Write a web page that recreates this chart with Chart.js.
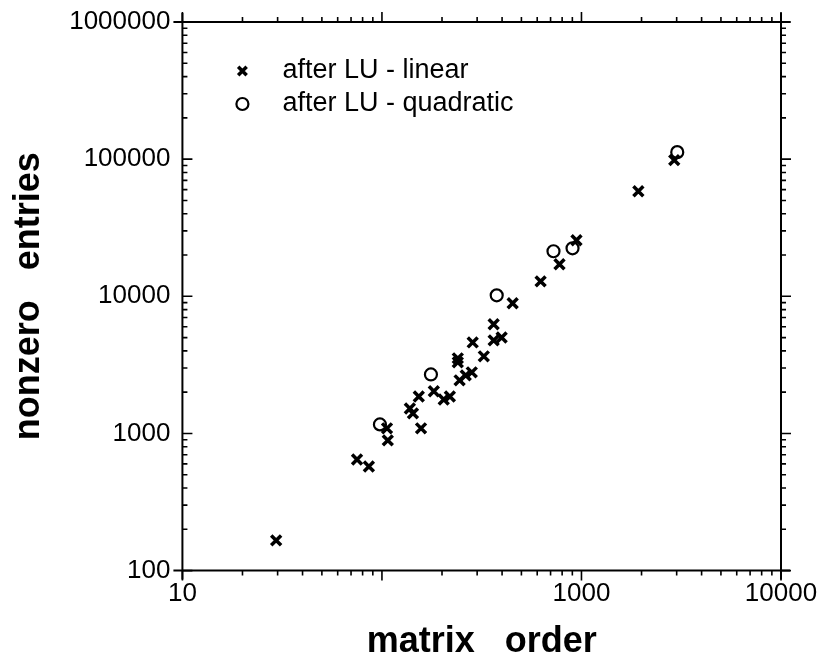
<!DOCTYPE html>
<html>
<head>
<meta charset="utf-8">
<script src="https://cdn.jsdelivr.net/npm/chart.js@4.4.0/dist/chart.umd.min.js"></script>
<style>
  html, body { margin: 0; padding: 0; background: #fff; }
  #wrap { width: 830px; height: 666px; }
</style>
</head>
<body>
<div id="wrap"><canvas id="chart" width="830" height="666"></canvas></div>
<script>
// matrix order vs nonzero entries
var linearOrder = [29.5, 75, 86, 106, 107, 138, 143, 153, 157, 182, 204, 219, 240, 240, 245, 263, 282, 285, 324, 363, 398, 363, 452, 624, 776, 944, 1928, 2917];
var linearNonzeros = [166, 646, 574, 1090, 890, 1520, 1400, 1860, 1090, 2030, 1770, 1860, 3530, 3300, 2440, 2650, 2790, 4610, 3650, 4770, 5010, 6250, 8890, 12850, 17130, 25640, 58340, 98400];

var quadOrder = [97.7, 176, 376, 724, 902, 3020];
var quadNonzeros = [1164, 2692, 10160, 21300, 22390, 112500];

var xTickLabels = [10, 1000, 10000];
var yTickLabels = [100, 1000, 10000, 100000, 1000000];

function pts(xs, ys) {
    return xs.map(function (x, i) { return { x: x, y: ys[i] }; });
}

function isLabel(list, v) {
    return list.some(function (t) { return Math.abs(t - v) / t < 1e-6; });
}

var FONT = '"Liberation Sans", Arial, Helvetica, sans-serif';

// box, crossing corners, and log ticks on all four sides
var frame = {
    id: 'frame',
    afterDraw: function (chart) {
        var c = chart.ctx, a = chart.chartArea;
        var xs = chart.scales.x, ys = chart.scales.y;
        c.save();
        c.strokeStyle = '#000';
        c.lineWidth = 2;
        c.beginPath();
        c.moveTo(a.left - 9, a.top); c.lineTo(a.right + 9, a.top);
        c.moveTo(a.left - 9, a.bottom); c.lineTo(a.right + 9, a.bottom);
        c.moveTo(a.left, a.top - 9); c.lineTo(a.left, a.bottom + 9);
        c.moveTo(a.right, a.top - 9); c.lineTo(a.right, a.bottom + 9);
        c.stroke();

        c.lineWidth = 1.6;
        c.beginPath();
        var e, s, v, p, len;
        for (e = 1; e <= 4; e++) {
            for (s = 1; s <= 9; s++) {
                v = s * Math.pow(10, e);
                if (v < xs.min || v > xs.max) continue;
                p = xs.getPixelForValue(v);
                len = s === 1 ? 10 : 5;
                c.moveTo(p, a.bottom); c.lineTo(p, a.bottom + len);
                c.moveTo(p, a.top); c.lineTo(p, a.top - len);
            }
        }
        for (e = 2; e <= 6; e++) {
            for (s = 1; s <= 9; s++) {
                v = s * Math.pow(10, e);
                if (v < ys.min || v > ys.max) continue;
                p = ys.getPixelForValue(v);
                len = s === 1 ? 10 : 5;
                c.moveTo(a.left, p); c.lineTo(a.left + len, p);
                c.moveTo(a.right, p); c.lineTo(a.right + len, p);
            }
        }
        c.stroke();
        c.restore();
    }
};

// legend sitting inside the plot box
var innerLegend = {
    id: 'innerLegend',
    afterDraw: function (chart) {
        var c = chart.ctx, a = chart.chartArea;
        c.save();
        c.font = '27px ' + FONT;
        c.textBaseline = 'middle';
        chart.data.datasets.forEach(function (ds, i) {
            var y = a.top + 49 + i * 33;
            var x = a.left + 60;
            c.strokeStyle = '#000';
            c.fillStyle = 'rgba(0,0,0,0)';
            c.lineWidth = ds.pointBorderWidth;
            Chart.helpers.drawPoint(c, {
                pointStyle: ds.pointStyle,
                radius: ds.legendRadius,
                borderWidth: ds.pointBorderWidth
            }, x, y);
            c.fillStyle = '#000';
            c.fillText(ds.label, x + 40, y);
        });
        c.restore();
    }
};

var ctx = document.getElementById('chart');

var scatter = new Chart(ctx, {
    type: 'scatter',
    data: {
        datasets: [
            {
                label: 'after LU - linear',
                data: pts(linearOrder, linearNonzeros),
                pointStyle: 'crossRot',
                pointRadius: 7,
                legendRadius: 6,
                pointBorderWidth: 3.5,
                borderColor: '#000',
                backgroundColor: '#000'
            },
            {
                label: 'after LU - quadratic',
                data: pts(quadOrder, quadNonzeros),
                pointStyle: 'circle',
                pointRadius: 6,
                legendRadius: 6,
                pointBorderWidth: 2.2,
                borderColor: '#000',
                backgroundColor: 'rgba(0,0,0,0)'
            }
        ]
    },
    options: {
        responsive: false,
        animation: false,
        layout: { padding: { left: 3, right: 49, top: 22, bottom: 0 } },
        plugins: {
            legend: { display: false },
            tooltip: { enabled: false }
        },
        scales: {
            x: {
                type: 'logarithmic',
                min: 10,
                max: 10000,
                border: { display: false },
                grid: { display: false, drawTicks: false },
                ticks: {
                    autoSkip: false,
                    maxRotation: 0,
                    padding: 8,
                    color: '#000',
                    font: { family: FONT, size: 26 },
                    callback: function (v) { return isLabel(xTickLabels, v) ? String(v) : ''; }
                },
                title: {
                    display: true,
                    text: 'matrix   order',
                    color: '#000',
                    font: { family: FONT, size: 36, weight: 'bold' },
                    padding: { top: 3, bottom: 2 }
                }
            },
            y: {
                type: 'logarithmic',
                min: 100,
                max: 1000000,
                border: { display: false },
                grid: { display: false, drawTicks: false },
                afterFit: function (scale) {
                    // labels fit inside the 22px top margin already
                    scale.paddingTop = 0;
                    scale.paddingBottom = 0;
                },
                ticks: {
                    autoSkip: false,
                    padding: 12,
                    color: '#000',
                    font: { family: FONT, size: 26 },
                    callback: function (v) { return isLabel(yTickLabels, v) ? String(v) : ''; }
                },
                title: {
                    display: true,
                    text: 'nonzero   entries',
                    color: '#000',
                    font: { family: FONT, size: 36, weight: 'bold' },
                    padding: { top: 4, bottom: 7 }
                }
            }
        }
    },
    plugins: [frame, innerLegend]
});
</script>
</body>
</html>
